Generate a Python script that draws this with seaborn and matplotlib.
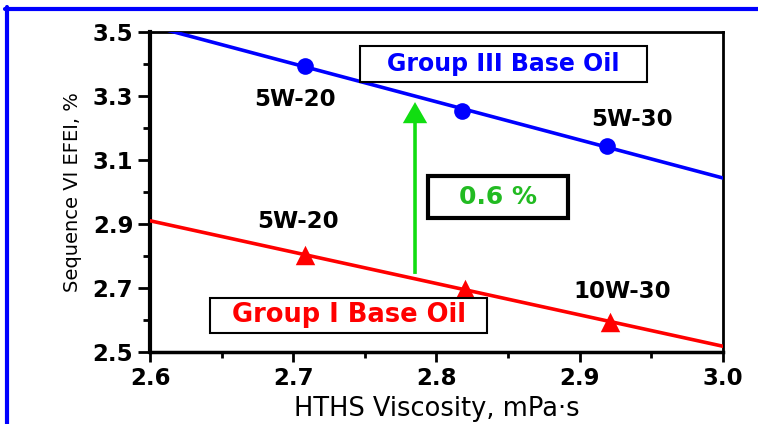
import numpy as np
import pandas as pd
import matplotlib
matplotlib.use("Agg")
import matplotlib.pyplot as plt
import matplotlib.patches as mpatches
from matplotlib.lines import Line2D
from matplotlib.ticker import MultipleLocator
import seaborn as sns

# HTHS viscosity (mPa·s) and Sequence VI EFEI (%) for each base oil family
hths_group3 = [2.708, 2.818, 2.919]
efei_group3 = [3.395, 3.253, 3.144]
hths_group1 = [2.708, 2.820, 2.921]
efei_group1 = [2.803, 2.697, 2.594]

x_ticks = [2.6, 2.7, 2.8, 2.9, 3.0]
y_ticks = [2.5, 2.7, 2.9, 3.1, 3.3, 3.5]

BLUE = "#0000ff"
RED = "#ff0000"
GREEN = "#11dd11"
TEXT_GREEN = "#22bb22"

sns.set_style("ticks")
plt.rcParams["font.family"] = ["DejaVu Sans"]
plt.rcParams["text.color"] = "black"
plt.rcParams["axes.labelcolor"] = "black"
plt.rcParams["xtick.color"] = "black"
plt.rcParams["ytick.color"] = "black"

df3 = pd.DataFrame({"hths": hths_group3, "efei": efei_group3})
df1 = pd.DataFrame({"hths": hths_group1, "efei": efei_group1})

W, H = 758, 424
fig = plt.figure(figsize=(W / 100, H / 100), dpi=100)
ax = fig.add_axes([150 / W, 1 - 352 / H, 573 / W, 320 / H])
ax.set_xlim(x_ticks[0], x_ticks[-1])
ax.set_ylim(y_ticks[0], y_ticks[-1])

# least-squares trend lines spanning the full viscosity range
for df, col in ((df3, BLUE), (df1, RED)):
    sns.regplot(data=df, x="hths", y="efei", ax=ax, ci=None, truncate=False,
                scatter=False, line_kws=dict(color=col, lw=2.6, zorder=3))

sns.scatterplot(data=df3, x="hths", y="efei", ax=ax, marker="o", s=12 ** 2,
                color=BLUE, edgecolor=BLUE, linewidth=0, zorder=4, clip_on=False)
sns.scatterplot(data=df1, x="hths", y="efei", ax=ax, marker="^", s=14 ** 2,
                color=RED, edgecolor=RED, linewidth=0, zorder=4, clip_on=False)

ax.set_xlim(x_ticks[0], x_ticks[-1])
ax.set_ylim(y_ticks[0], y_ticks[-1])

# axes styling
ax.set_xticks(x_ticks)
ax.set_yticks(y_ticks)
ax.xaxis.set_minor_locator(MultipleLocator(0.05))
ax.yaxis.set_minor_locator(MultipleLocator(0.1))
ax.set_xticklabels([f"{v:.1f}" for v in x_ticks])
ax.set_yticklabels([f"{v:.1f}" for v in y_ticks])
ax.tick_params(axis="both", which="both", direction="out", color="black",
               labelcolor="black", top=False, right=False)
ax.tick_params(axis="y", which="major", length=9, width=2, pad=3,
               labelsize=16.5)
ax.tick_params(axis="y", which="minor", length=5, width=2)
ax.tick_params(axis="x", which="major", length=7, width=2, pad=4,
               labelsize=16.5)
ax.tick_params(axis="x", which="minor", length=4, width=2)
for lab in ax.get_xticklabels() + ax.get_yticklabels():
    lab.set_fontweight("bold")
for side, lw in (("left", 3), ("bottom", 2.5), ("top", 2), ("right", 2)):
    ax.spines[side].set_visible(True)
    ax.spines[side].set_linewidth(lw)
    ax.spines[side].set_color("black")

ax.set_xlabel("HTHS Viscosity, mPa·s", fontsize=18.5, labelpad=4,
              color="black")
ax.set_ylabel("Sequence VI EFEI, %", fontsize=14, labelpad=8, color="black")

# grade labels beside the points
grade_kw = dict(fontsize=16.5, fontweight="bold", ha="center", va="center",
                color="black")
ax.text(2.701, 3.289, "5W-20", **grade_kw)
ax.text(2.9365, 3.225, "5W-30", **grade_kw)
ax.text(2.703, 2.909, "5W-20", **grade_kw)
ax.text(2.9295, 2.6875, "10W-30", **grade_kw)


def boxed_label(x0, y0, x1, y1, text, color, size, lw):
    """Framed label; corners given in pixel-sized axes fractions."""
    fx0, fx1 = (x0 - 150) / 573, (x1 - 150) / 573
    fy0, fy1 = (352 - y1) / 320, (352 - y0) / 320
    ax.add_patch(mpatches.Rectangle((fx0, fy0), fx1 - fx0, fy1 - fy0,
                                    transform=ax.transAxes, facecolor="white",
                                    edgecolor="black", lw=lw, zorder=5))
    ax.text((fx0 + fx1) / 2, (fy0 + fy1) / 2, text, transform=ax.transAxes,
            ha="center", va="center", color=color, fontsize=size,
            fontweight="bold", zorder=6)


boxed_label(360, 46, 647, 82, "Group III Base Oil", BLUE, 17, 1.5)
boxed_label(210, 298, 487, 333, "Group I Base Oil", RED, 18.5, 1.5)

gap = np.mean(efei_group3) - np.mean(efei_group1)
boxed_label(428, 176, 568, 218, f"{gap:.1f} %", TEXT_GREEN, 18, 3)

# upward arrow showing the efficiency gain
arrow = mpatches.FancyArrow(2.785, 2.744, 0, 3.281 - 2.744, width=0.0025,
                            head_width=0.017, head_length=0.066,
                            length_includes_head=True, color=GREEN, lw=0,
                            zorder=4)
ax.add_patch(arrow)

# blue frame along the top and left edges of the figure
fig.add_artist(Line2D([5 / W, 1], [1 - 9 / H, 1 - 9 / H],
                      transform=fig.transFigure, color=BLUE, lw=3))
fig.add_artist(Line2D([7 / W, 7 / W], [0, 1 - 7 / H],
                      transform=fig.transFigure, color=BLUE, lw=3))

fig.savefig("out.png", dpi=100)
